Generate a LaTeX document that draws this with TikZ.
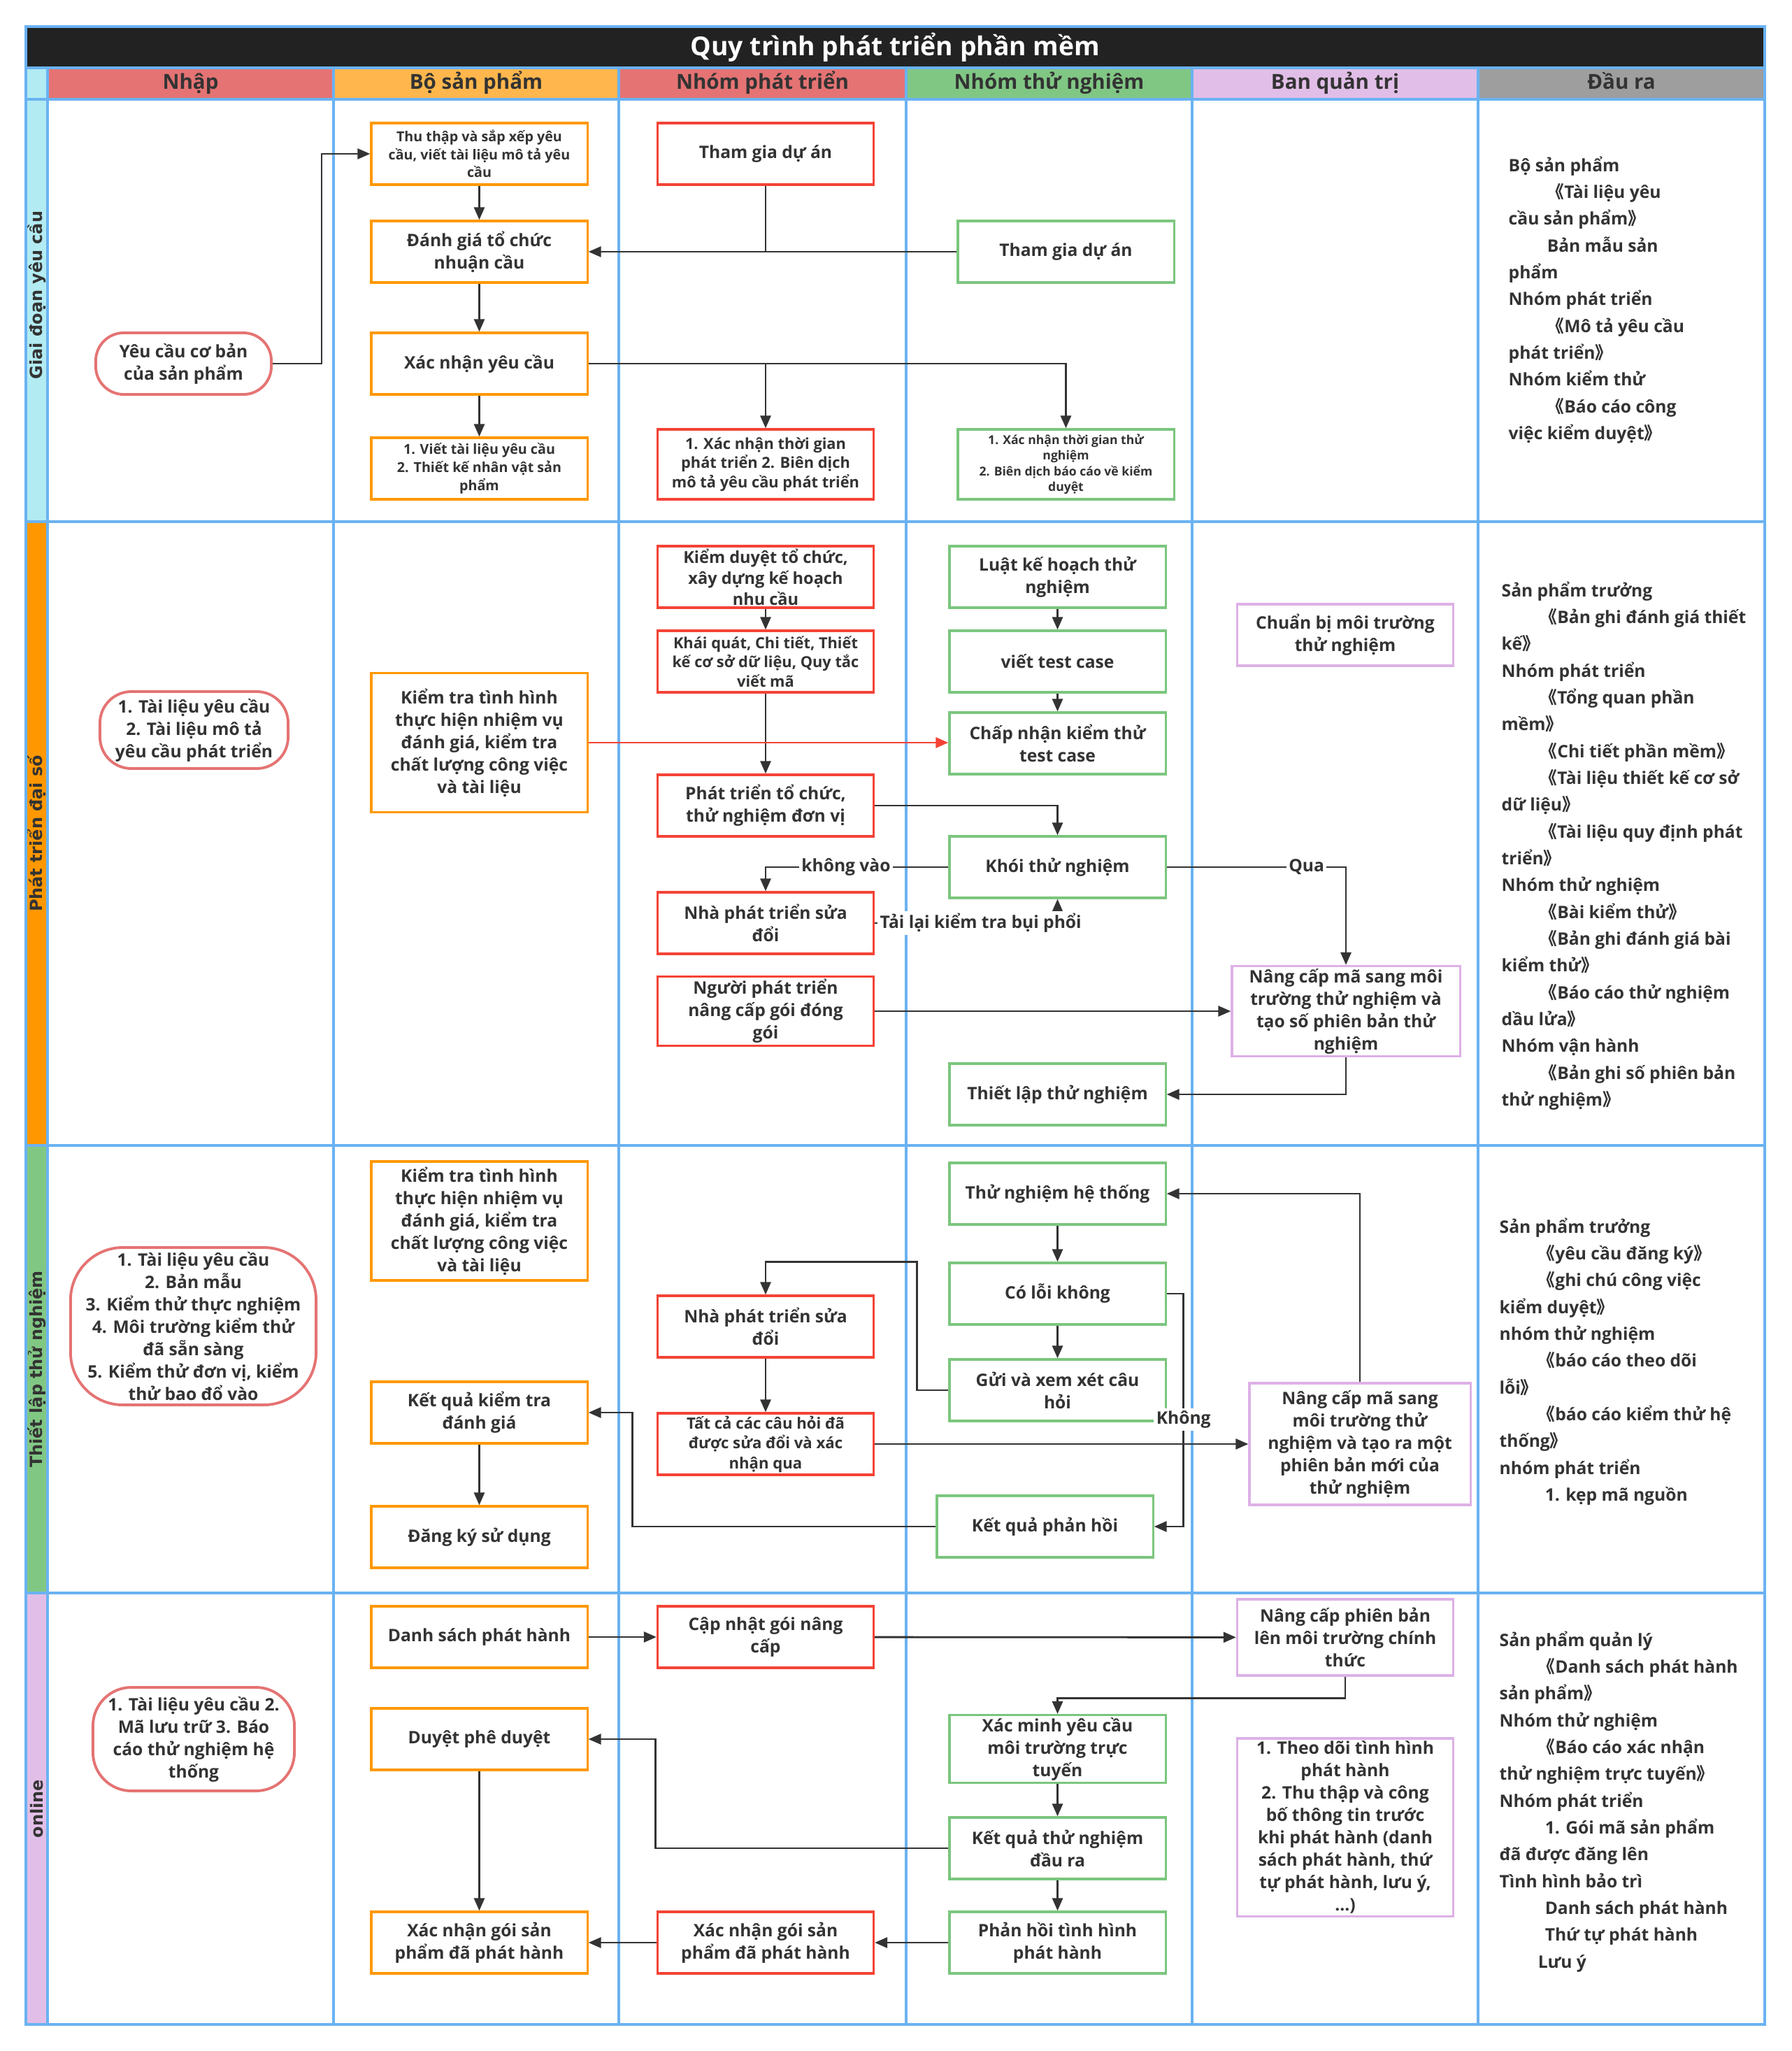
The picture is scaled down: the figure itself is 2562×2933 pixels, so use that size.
\documentclass[tikz,border=0pt]{standalone}
\usepackage{fontspec}
\setmainfont{Open Sans}
\newfontfamily\lanefont{DejaVu Sans}
\newfontfamily\cjk{Noto Sans CJK SC}
\usepackage{xcolor}
\usetikzlibrary{arrows.meta, positioning}

\definecolor{ink}{HTML}{333333}
\definecolor{gridblue}{HTML}{6AB2F2}
\definecolor{titlebg}{HTML}{222222}
\definecolor{hdred}{HTML}{E57373}
\definecolor{hdorange}{HTML}{FFB74D}
\definecolor{hdgreen}{HTML}{81C784}
\definecolor{hdviolet}{HTML}{E1BEE7}
\definecolor{hdgray}{HTML}{9E9E9E}
\definecolor{lanecyan}{HTML}{B2EBF2}
\definecolor{laneorange}{HTML}{FF9800}
\definecolor{bxorange}{HTML}{FF9800}
\definecolor{bxred}{HTML}{F44336}
\definecolor{bxgreen}{HTML}{7BC67E}
\definecolor{bxviolet}{HTML}{DDB1E6}
\definecolor{inpink}{HTML}{E57373}

\newcommand{\boxfont}{\fontsize{7.0}{9.1}\selectfont\bfseries}
\newcommand{\smallfont}{\fontsize{5.6}{7.3}\selectfont\bfseries}
\newcommand{\headfont}{\fontsize{8.4}{10}\selectfont\bfseries}
\newcommand{\outfont}{\fontsize{7.0}{10.9}\selectfont\bfseries}
\newcommand{\obr}{{\cjk 《}}
\newcommand{\cbr}{{\cjk 》}}
\newcommand{\outind}{\hspace*{0.55cm}}

\begin{document}
\begin{tikzpicture}[
  x=0.01cm, y=-0.01cm,
  %--- style definitions ---
  module/.style   = {rectangle, draw=#1, line width=0.9pt, fill=white,
                     minimum width=3.09cm, minimum height=0.88cm, inner sep=1pt,
                     align=center, text=ink, font=\boxfont},
  source/.style   = {rectangle, rounded corners=#1, draw=inpink, line width=1.1pt,
                     fill=white, inner sep=1pt, align=center, text=ink, font=\boxfont},
  header/.style   = {rectangle, fill=#1, minimum width=4.09cm, minimum height=0.44cm,
                     inner sep=0pt, text height=2.1mm, text depth=0.7mm, text=ink, font=\headfont},
  lane/.style     = {rectangle, fill=#1, rotate=90, minimum height=0.31cm, inner sep=0pt,
                     text=ink, font=\lanefont\fontsize{6.8}{8}\selectfont\bfseries},
  titlebar/.style = {rectangle, fill=titlebg, minimum width=24.87cm, minimum height=0.59cm,
                     inner sep=0pt, text=white, font=\fontsize{10.6}{12}\selectfont\bfseries},
  arrow/.style    = {-{Triangle[length=0.18cm,width=0.15cm]}, line width=0.8pt, draw=ink},
  link/.style     = {line width=0.8pt, draw=ink},
  cond/.style     = {fill=white, inner sep=1pt, text=ink, font=\boxfont},
  laneline/.style = {draw=gridblue, line width=0.9pt},
  outtext/.style  = {anchor=north west, inner sep=0pt, align=left, text=ink, font=\outfont},
]

\useasboundingbox (0,0) rectangle (2562,2933);
\fill[white] (0,0) rectangle (2562,2933);

%% ── TITLE AND COLUMN HEADERS ───────────────────────────────────────────────
\node[titlebar] (title) at (1280.5,67.5) {Quy trình phát triển phần mềm};

\node[header=hdred]    (hnhap) at (272.5,120)  {Nhập};
\node[header=hdorange] (hbsp)  at (681,120)    {Bộ sản phẩm};
\node[header=hdred]    (hnpt)  at (1090.5,120) {Nhóm phát triển};
\node[header=hdgreen]  (hntn)  at (1500.5,120) {Nhóm thử nghiệm};
\node[header=hdviolet] (hbqt)  at (1909.5,120) {Ban quản trị};
\node[header=hdgray]   (hdra)  at (2319,120)   {Đầu ra};

%% ── LANE STRIPES ───────────────────────────────────────────────────────────
\node[lane=lanecyan,   minimum width=6.48cm] (lane1) at (52.5,422)    {Giai đoạn yêu cầu};
\node[lane=laneorange, minimum width=8.92cm] (lane2) at (52.5,1192)   {Phát triển đại số};
\node[lane=hdgreen,    minimum width=6.40cm] (lane3) at (52.5,1958)   {Thiết lập thử nghiệm};
\node[lane=hdviolet,   minimum width=6.17cm] (lane4) at (52.5,2586.5) {online};

%% ── GRID ───────────────────────────────────────────────────────────────────
\draw[laneline] (37,38) rectangle (2524,2895);
\draw[laneline] (37,97) -- (2524,97)  (37,142) -- (2524,142)
                (37,746) -- (2524,746) (37,1638) -- (2524,1638) (37,2278) -- (2524,2278);
\draw[laneline] (68,97) -- (68,2895)   (477,97) -- (477,2895)   (885,97) -- (885,2895)
                (1296,97) -- (1296,2895) (1705,97) -- (1705,2895) (2114,97) -- (2114,2895);

%% ── LANE 1 : GIAI ĐOẠN YÊU CẦU ─────────────────────────────────────────────
\node[source=0.4cm, minimum width=2.51cm, minimum height=0.88cm] (in1) at (262.5,520)
      {Yêu cầu cơ bản\\của sản phẩm};
\node[module=bxorange, font=\smallfont] (thu) at (685.5,220)
      {Thu thập và sắp xếp yêu\\cầu, viết tài liệu mô tả yêu\\cầu};
\node[module=bxorange] (dgia) at (685.5,360) {Đánh giá tổ chức\\nhuận cầu};
\node[module=bxorange] (xnyc) at (685.5,520) {Xác nhận yêu cầu};
\node[module=bxorange, font=\smallfont] (viet) at (685.5,670)
      {1. Viết tài liệu yêu cầu\\2. Thiết kế nhân vật sản\\phẩm};
\node[module=bxred] (tgda1) at (1095,220) {Tham gia dự án};
\node[module=bxred, minimum height=1.0cm, font=\fontsize{6.2}{7.8}\selectfont\bfseries] (xntg) at (1095,664)
      {1. Xác nhận thời gian\\phát triển 2. Biên dịch\\mô tả yêu cầu phát triển};
\node[module=bxgreen] (tgda2) at (1524.5,360) {Tham gia dự án};
\node[module=bxgreen, minimum height=1.0cm, font=\fontsize{5.0}{6.4}\selectfont\bfseries] (xntn) at (1524.5,664)
      {1. Xác nhận thời gian thử\\nghiệm\\2. Biên dịch báo cáo về kiểm\\duyệt};

\node[outtext] (out1) at (2157,223)
      {Bộ sản phẩm\\
       \outind\obr Tài liệu yêu\\
       cầu sản phẩm\cbr\\
       \outind Bản mẫu sản\\
       phẩm\\
       Nhóm phát triển\\
       \outind\obr Mô tả yêu cầu\\
       phát triển\cbr\\
       Nhóm kiểm thử\\
       \outind\obr Báo cáo công\\
       việc kiểm duyệt\cbr};

\draw[arrow] (in1.east) -- ++(70,0) |- (thu.west);
\draw[arrow] (thu) -- (dgia);
\draw[arrow] (dgia) -- (xnyc);
\draw[arrow] (xnyc) -- (viet);
\draw[arrow] (tgda2.west) -- (dgia.east);
\draw[link] (tgda1.south) -- (tgda1.south |- dgia.east);
\draw[arrow] (xnyc.east) -| (xntn.north);
\draw[arrow] (xnyc.east -| xntg.north) -- (xntg.north);

%% ── LANE 2 : PHÁT TRIỂN ĐẠI SỐ ─────────────────────────────────────────────
\node[source=0.45cm, minimum width=2.69cm, minimum height=1.10cm] (in2) at (277.5,1044)
      {1. Tài liệu yêu cầu\\2. Tài liệu mô tả\\yêu cầu phát triển};
\node[module=bxorange, minimum height=1.99cm] (ktra2) at (685.5,1062)
      {Kiểm tra tình hình\\thực hiện nhiệm vụ\\đánh giá, kiểm tra\\chất lượng công việc\\và tài liệu};
\node[module=bxred, font=\fontsize{6.7}{8.5}\selectfont\bfseries] (kduyet) at (1095,825)
      {Kiểm duyệt tổ chức,\\xây dựng kế hoạch\\nhu cầu};
\node[module=bxred, font=\fontsize{6.2}{7.8}\selectfont\bfseries] (kquat) at (1095,946)
      {Khái quát, Chi tiết, Thiết\\kế cơ sở dữ liệu, Quy tắc\\viết mã};
\node[module=bxred] (ptto) at (1095,1152) {Phát triển tổ chức,\\thử nghiệm đơn vị};
\node[module=bxred] (npt2) at (1095,1320) {Nhà phát triển sửa\\đổi};
\node[module=bxred] (nguoi) at (1095,1446) {Người phát triển\\nâng cấp gói đóng\\gói};
\node[module=bxgreen] (luat) at (1512.5,825)  {Luật kế hoạch thử\\nghiệm};
\node[module=bxgreen] (vtc)  at (1512.5,946)  {viết test case};
\node[module=bxgreen] (cnkt) at (1512.5,1063) {Chấp nhận kiểm thử\\test case};
\node[module=bxgreen] (khoi) at (1512.5,1240) {Khói thử nghiệm};
\node[module=bxgreen] (tlap) at (1512.5,1565) {Thiết lập thử nghiệm};
\node[module=bxviolet] (cbmt) at (1924,908) {Chuẩn bị môi trường\\thử nghiệm};
\node[module=bxviolet, minimum width=3.26cm, minimum height=1.29cm] (nc2) at (1925,1446)
      {Nâng cấp mã sang môi\\trường thử nghiệm và\\tạo số phiên bản thử\\nghiệm};

\node[outtext] (out2) at (2147,831)
      {Sản phẩm trưởng\\
       \outind\obr Bản ghi đánh giá thiết\\
       kế\cbr\\
       Nhóm phát triển\\
       \outind\obr Tổng quan phần\\
       mềm\cbr\\
       \outind\obr Chi tiết phần mềm\cbr\\
       \outind\obr Tài liệu thiết kế cơ sở\\
       dữ liệu\cbr\\
       \outind\obr Tài liệu quy định phát\\
       triển\cbr\\
       Nhóm thử nghiệm\\
       \outind\obr Bài kiểm thử\cbr\\
       \outind\obr Bản ghi đánh giá bài\\
       kiểm thử\cbr\\
       \outind\obr Báo cáo thử nghiệm\\
       dầu lửa\cbr\\
       Nhóm vận hành\\
       \outind\obr Bản ghi số phiên bản\\
       thử nghiệm\cbr};

\draw[arrow] (kduyet) -- (kquat);
\draw[arrow] (kquat) -- (ptto);
\draw[arrow, draw=bxred] (ktra2.east) -- (ktra2.east -| cnkt.west);
\draw[arrow] (luat) -- (vtc);
\draw[arrow] (vtc) -- (cnkt);
\draw[arrow] (ptto.east) -| (khoi.north);
\draw[arrow] (khoi.west) -| node[pos=0.28, cond]{không vào} (npt2.north);
\draw[arrow] (npt2.east) -| node[pos=0.29, cond]{Tải lại kiểm tra bụi phổi} (khoi.south);
\draw[arrow] (nguoi.east) -- (nc2.west);
\draw[arrow] (khoi.east) -| node[pos=0.39, cond]{Qua} (nc2.north);
\draw[arrow] (nc2.south) |- (tlap.east);

%% ── LANE 3 : THIẾT LẬP THỬ NGHIỆM ──────────────────────────────────────────
\node[source=0.75cm, minimum width=3.51cm, minimum height=2.25cm] (in3) at (276.5,1896.5)
      {1. Tài liệu yêu cầu\\2. Bản mẫu\\3. Kiểm thử thực nghiệm\\4. Môi trường kiểm thử\\đã sẵn sàng\\5. Kiểm thử đơn vị, kiểm\\thử bao đổ vào};
\node[module=bxorange, minimum height=1.70cm] (ktra3) at (685.5,1746)
      {Kiểm tra tình hình\\thực hiện nhiệm vụ\\đánh giá, kiểm tra\\chất lượng công việc\\và tài liệu};
\node[module=bxorange] (kqkt) at (685.5,2020) {Kết quả kiểm tra\\đánh giá};
\node[module=bxorange] (dky)  at (685.5,2198) {Đăng ký sử dụng};
\node[module=bxred] (npt3) at (1095,1897) {Nhà phát triển sửa\\đổi};
\node[module=bxred, font=\fontsize{6.3}{8.1}\selectfont\bfseries] (tatca) at (1095,2065)
      {Tất cả các câu hỏi đã\\được sửa đổi và xác\\nhận qua};
\node[module=bxgreen] (tnht)  at (1512.5,1707) {Thử nghiệm hệ thống};
\node[module=bxgreen] (coloi) at (1512.5,1850) {Có lỗi không};
\node[module=bxgreen] (gui)   at (1512.5,1988) {Gửi và xem xét câu\\hỏi};
\node[module=bxgreen] (kqph)  at (1494.5,2183) {Kết quả phản hồi};
\node[module=bxviolet, minimum width=3.16cm, minimum height=1.74cm] (nc3) at (1945,2065)
      {Nâng cấp mã sang\\môi trường thử\\nghiệm và tạo ra một\\phiên bản mới của\\thử nghiệm};

\node[outtext] (out3) at (2144,1741)
      {Sản phẩm trưởng\\
       \outind\obr yêu cầu đăng ký\cbr\\
       \outind\obr ghi chú công việc\\
       kiểm duyệt\cbr\\
       nhóm thử nghiệm\\
       \outind\obr báo cáo theo dõi\\
       lỗi\cbr\\
       \outind\obr báo cáo kiểm thử hệ\\
       thống\cbr\\
       nhóm phát triển\\
       \outind\hspace*{0.1cm}1. kẹp mã nguồn};

\draw[arrow] (tnht) -- (coloi);
\draw[arrow] (coloi) -- (gui);
\draw[arrow] (gui.west) -- ++(-45,0) |- (npt3.north |- coloi.north) -- (npt3.north);
\draw[arrow] (npt3) -- (tatca);
\draw[arrow] (tatca.east) -- (tatca.east -| nc3.west);
\draw[arrow] (nc3.north) |- (tnht.east);
\draw[arrow] (coloi.east) -- ++(24,0) |- node[pos=0.27, cond]{Không} (kqph.east);
\draw[arrow] (kqph.west) -- ++(-434,0) |- (kqkt.east);
\draw[arrow] (kqkt) -- (dky);

%% ── LANE 4 : ONLINE ────────────────────────────────────────────────────────
\node[source=0.55cm, minimum width=2.88cm, minimum height=1.48cm] (in4) at (277,2487)
      {1. Tài liệu yêu cầu 2.\\Mã lưu trữ 3. Báo\\cáo thử nghiệm hệ\\thống};
\node[module=bxorange] (dsph)  at (685.5,2341) {Danh sách phát hành};
\node[module=bxorange] (duyet) at (685.5,2487) {Duyệt phê duyệt};
\node[module=bxorange] (xng1)  at (685.5,2778) {Xác nhận gói sản\\phẩm đã phát hành};
\node[module=bxred] (cngoi) at (1095,2341) {Cập nhật gói nâng\\cấp};
\node[module=bxred] (xng2)  at (1095,2778) {Xác nhận gói sản\\phẩm đã phát hành};
\node[module=bxgreen] (xminh) at (1512.5,2501) {Xác minh yêu cầu\\môi trường trực\\tuyến};
\node[module=bxgreen] (kqtn)  at (1512.5,2643) {Kết quả thử nghiệm\\đầu ra};
\node[module=bxgreen] (phtt)  at (1512.5,2778) {Phản hồi tình hình\\phát hành};
\node[module=bxviolet, minimum height=1.09cm] (ncpb) at (1924,2341.5)
      {Nâng cấp phiên bản\\lên môi trường chính\\thức};
\node[module=bxviolet, minimum height=2.54cm] (theo) at (1924,2613)
      {1. Theo dõi tình hình\\phát hành\\2. Thu thập và công\\bố thông tin trước\\khi phát hành (danh\\sách phát hành, thứ\\tự phát hành, lưu ý,\\...)};

\node[outtext] (out4) at (2144,2332)
      {Sản phẩm quản lý\\
       \outind\obr Danh sách phát hành\\
       sản phẩm\cbr\\
       Nhóm thử nghiệm\\
       \outind\obr Báo cáo xác nhận\\
       thử nghiệm trực tuyến\cbr\\
       Nhóm phát triển\\
       \outind\hspace*{0.1cm}1. Gói mã sản phẩm\\
       đã được đăng lên\\
       Tình hình bảo trì\\
       \outind\hspace*{0.1cm}Danh sách phát hành\\
       \outind\hspace*{0.1cm}Thứ tự phát hành\\
       \outind Lưu ý};

\draw[arrow] (dsph) -- (cngoi);
\draw[arrow] (cngoi) -- (ncpb);
\draw[arrow] (ncpb.south) -- ++(0,31) -| (xminh.north);
\draw[arrow] (xminh) -- (kqtn);
\draw[arrow] (kqtn) -- (phtt);
\draw[arrow] (phtt) -- (xng2);
\draw[arrow] (xng2) -- (xng1);
\draw[arrow] (kqtn.west) -- ++(-419,0) |- (duyet.east);
\draw[arrow] (duyet) -- (xng1);

\end{tikzpicture}
\end{document}
